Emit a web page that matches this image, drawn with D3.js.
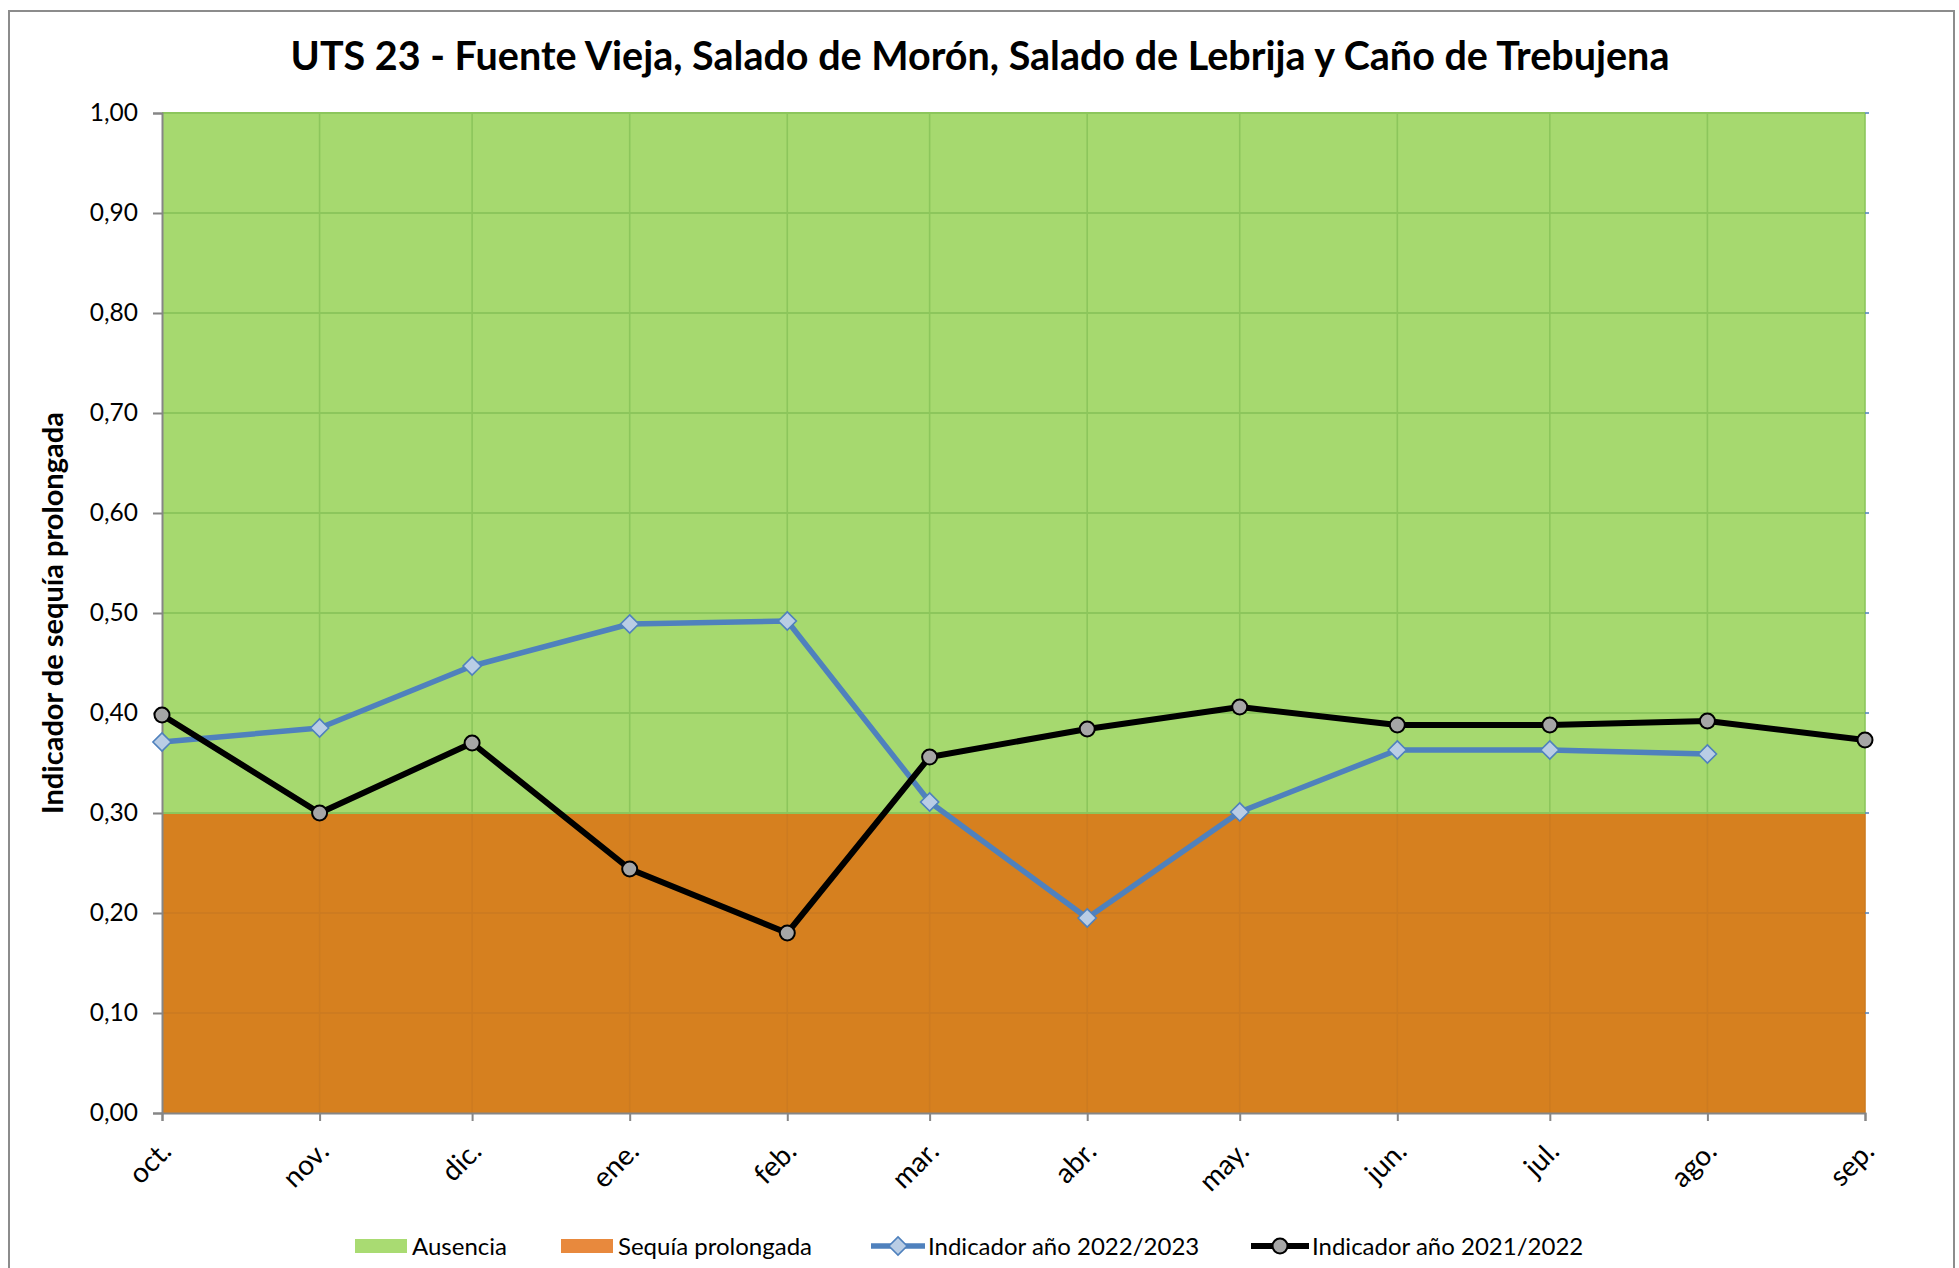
<!DOCTYPE html>
<html>
<head>
<meta charset="utf-8">
<script src="https://cdn.jsdelivr.net/npm/d3@7"></script>
<style>
  html, body { margin: 0; padding: 0; background: #fff; }
  svg { display: block; font-family: Lato, "Open Sans", "Liberation Sans", sans-serif; }
</style>
</head>
<body>
<svg id="chart" width="1959" height="1268"></svg>
<script>
// Hydrological months (Oct 2022 – Sep 2023)
const months = ["2022-10-01","2022-11-01","2022-12-01","2023-01-01","2023-02-01","2023-03-01",
                "2023-04-01","2023-05-01","2023-06-01","2023-07-01","2023-08-01","2023-09-01"];
const monthLabels = ["oct.","nov.","dic.","ene.","feb.","mar.","abr.","may.","jun.","jul.","ago.","sep."];

// Status bands (stacked): prolonged drought up to 0.30, absence up to 1.00
const sequiaProlongada = [0.30,0.30,0.30,0.30,0.30,0.30,0.30,0.30,0.30,0.30,0.30,0.30];
const ausencia         = [1.00,1.00,1.00,1.00,1.00,1.00,1.00,1.00,1.00,1.00,1.00,1.00];

// Indicator series (null = not yet available)
const indicador2223 = [0.371,0.385,0.447,0.489,0.492,0.311,0.195,0.301,0.363,0.363,0.359,null];
const indicador2122 = [0.398,0.300,0.370,0.244,0.180,0.356,0.384,0.406,0.388,0.388,0.392,0.373];

const yTicks = [0,0.1,0.2,0.3,0.4,0.5,0.6,0.7,0.8,0.9,1.0];
const yTickLabels = ["0,00","0,10","0,20","0,30","0,40","0,50","0,60","0,70","0,80","0,90","1,00"];

const title = "UTS 23 - Fuente Vieja, Salado de Morón, Salado de Lebrija y Caño de Trebujena";
const yTitle = "Indicador de sequía prolongada";
const legendLabels = ["Ausencia","Sequía prolongada","Indicador año 2022/2023","Indicador año 2021/2022"];

const parse = d3.timeParse("%Y-%m-%d");
const dates = months.map(parse);

const svg = d3.select("#chart");
const L = 162, R = 1865, T = 113, B = 1113;

const x = d3.scaleTime().domain([dates[0], dates[dates.length - 1]]).range([L, R]);
const y = d3.scaleLinear().domain([0, 1]).range([B, T]);

// Outer chart frame
svg.append("rect")
  .attr("x", 9).attr("y", 11).attr("width", 1945).attr("height", 1275)
  .attr("fill", "#fff").attr("stroke", "#8c8c8c").attr("stroke-width", 2);

// Title
svg.append("text")
  .attr("x", 980).attr("y", 70)
  .attr("text-anchor", "middle")
  .attr("font-size", 39.5).attr("font-weight", 700).attr("fill", "#000")
  .text(title);

// Bands
const bandData = dates.map((d, i) => ({ d, low: sequiaProlongada[i], high: ausencia[i] }));
const defs = svg.append("defs");

svg.append("path").datum(bandData)
  .attr("fill", "#d6801f")
  .attr("d", d3.area().x(p => x(p.d)).y0(y(0)).y1(p => y(p.low)));
svg.append("path").datum(bandData)
  .attr("fill", "#a6d96f")
  .attr("d", d3.area().x(p => x(p.d)).y0(p => y(p.low)).y1(p => y(p.high)));

// Gridlines, tinted per band
defs.append("clipPath").attr("id", "clipGreen").append("rect")
  .attr("x", L - 1).attr("y", T - 2).attr("width", R - L + 2).attr("height", y(0.3) - T + 3);
defs.append("clipPath").attr("id", "clipOrange").append("rect")
  .attr("x", L - 1).attr("y", y(0.3) + 1).attr("width", R - L + 2).attr("height", B - y(0.3));

function grid(g, color) {
  g.selectAll("line.h").data(yTicks.filter(v => v > 0)).enter().append("line")
    .attr("x1", L).attr("x2", R).attr("y1", v => y(v)).attr("y2", v => y(v))
    .attr("stroke", color).attr("stroke-width", 2);
  g.selectAll("line.v").data(dates.slice(1)).enter().append("line")
    .attr("x1", d => x(d)).attr("x2", d => x(d)).attr("y1", T).attr("y2", B)
    .attr("stroke", color).attr("stroke-width", 1.6);
}
grid(svg.append("g").attr("clip-path", "url(#clipGreen)"), "#8cc65c");
grid(svg.append("g").attr("clip-path", "url(#clipOrange)"), "#cd7b20");

// Small right-hand tick marks
svg.append("g").selectAll("line").data(yTicks.filter(v => v > 0)).enter().append("line")
  .attr("x1", R).attr("x2", R + 4).attr("y1", v => y(v)).attr("y2", v => y(v))
  .attr("stroke", "#4f81bd").attr("stroke-width", 1.5);

// Y axis
const yAxis = svg.append("g").attr("transform", `translate(${L},0)`)
  .call(d3.axisLeft(y).tickValues(yTicks).tickSize(9).tickPadding(15)
    .tickFormat((v, i) => yTickLabels[i]));
yAxis.select(".domain").attr("stroke", "#868686").attr("stroke-width", 2);
yAxis.selectAll(".tick line").attr("stroke", "#868686").attr("stroke-width", 2);
yAxis.selectAll(".tick text").attr("font-size", 24.5).attr("fill", "#000")
  .attr("font-family", "Lato, 'Open Sans', sans-serif");

// X axis
const xAxis = svg.append("g").attr("transform", `translate(0,${B})`)
  .call(d3.axisBottom(x).tickValues(dates).tickSize(8).tickFormat(() => ""));
xAxis.select(".domain").attr("stroke", "#868686").attr("stroke-width", 2);
xAxis.selectAll(".tick line").attr("stroke", "#868686").attr("stroke-width", 2);

svg.append("g").selectAll("text").data(dates).enter().append("text")
  .attr("transform", d => `translate(${x(d) + 11},${B + 40}) rotate(-45)`)
  .attr("text-anchor", "end")
  .attr("font-size", 28).attr("fill", "#000")
  .text((d, i) => monthLabels[i]);

// Y axis title
svg.append("text")
  .attr("transform", `translate(56,${(T + B) / 2}) rotate(-90)`)
  .attr("text-anchor", "middle").attr("dominant-baseline", "middle")
  .attr("font-size", 29).attr("font-weight", 700)
  .text(yTitle);

// Series lines
const line = d3.line().defined(p => p.v != null).x(p => x(p.d)).y(p => y(p.v));
const s2223 = dates.map((d, i) => ({ d, v: indicador2223[i] }));
const s2122 = dates.map((d, i) => ({ d, v: indicador2122[i] }));

svg.append("path").datum(s2223).attr("fill", "none")
  .attr("stroke", "#4f81bd").attr("stroke-width", 5.5).attr("stroke-linejoin", "round")
  .attr("d", line);
const diamond = d3.symbol().type(d3.symbolDiamond2).size(210);
svg.append("g").selectAll("path").data(s2223.filter(p => p.v != null)).enter().append("path")
  .attr("transform", p => `translate(${x(p.d)},${y(p.v)})`)
  .attr("d", diamond)
  .attr("fill", "#b9cde5").attr("stroke", "#4f81bd").attr("stroke-width", 1.6);

svg.append("path").datum(s2122).attr("fill", "none")
  .attr("stroke", "#000").attr("stroke-width", 6).attr("stroke-linejoin", "round")
  .attr("d", line);
svg.append("g").selectAll("circle").data(s2122).enter().append("circle")
  .attr("cx", p => x(p.d)).attr("cy", p => y(p.v)).attr("r", 7.5)
  .attr("fill", "#a6a6a6").attr("stroke", "#000").attr("stroke-width", 2);

// Legend
const lg = svg.append("g").attr("font-size", 24).attr("fill", "#000");
const ly = 1246;
lg.append("rect").attr("x", 355).attr("y", ly - 7).attr("width", 52).attr("height", 14).attr("fill", "#a9db72");
lg.append("text").attr("x", 412).attr("y", ly + 9).text(legendLabels[0]);
lg.append("rect").attr("x", 561).attr("y", ly - 7).attr("width", 52).attr("height", 14).attr("fill", "#e8893d");
lg.append("text").attr("x", 618).attr("y", ly + 9).text(legendLabels[1]);

lg.append("line").attr("x1", 871).attr("x2", 925).attr("y1", ly).attr("y2", ly)
  .attr("stroke", "#4f81bd").attr("stroke-width", 5.5);
lg.append("path").attr("transform", `translate(898,${ly})`).attr("d", diamond)
  .attr("fill", "#b9cde5").attr("stroke", "#4f81bd").attr("stroke-width", 1.6);
lg.append("text").attr("x", 928).attr("y", ly + 9).text(legendLabels[2]);

lg.append("line").attr("x1", 1251).attr("x2", 1309).attr("y1", ly).attr("y2", ly)
  .attr("stroke", "#000").attr("stroke-width", 6);
lg.append("circle").attr("cx", 1280).attr("cy", ly).attr("r", 7.5)
  .attr("fill", "#a6a6a6").attr("stroke", "#000").attr("stroke-width", 2);
lg.append("text").attr("x", 1312).attr("y", ly + 9).text(legendLabels[3]);
</script>
</body>
</html>
